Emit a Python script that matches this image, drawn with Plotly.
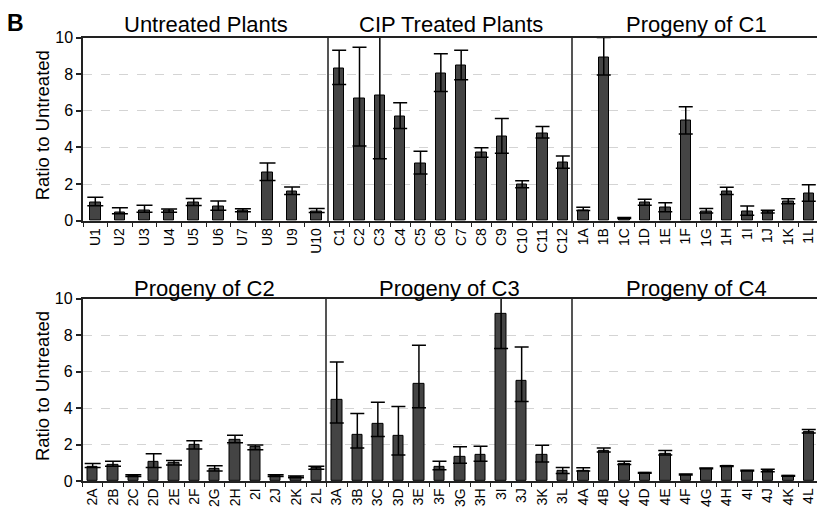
import plotly.graph_objects as go

W, H = 817, 519

# ---------------- data ----------------
u_cats = ["U1", "U2", "U3", "U4", "U5", "U6", "U7", "U8", "U9", "U10"]
u_vals = [0.99, 0.43, 0.56, 0.56, 0.99, 0.80, 0.56, 2.64, 1.60, 0.53]
u_up = [0.30, 0.28, 0.29, 0.08, 0.23, 0.28, 0.10, 0.51, 0.25, 0.14]
u_low = [0.17, 0.05, 0.09, 0.09, 0.16, 0.22, 0.06, 0.44, 0.17, 0.08]

c_cats = ["C1", "C2", "C3", "C4", "C5", "C6", "C7", "C8", "C9", "C10", "C11", "C12"]
c_vals = [8.31, 6.65, 6.83, 5.70, 3.15, 8.05, 8.45, 3.71, 4.58, 1.97, 4.79, 3.20]
c_up = [1.00, 2.82, 3.50, 0.74, 0.65, 1.07, 0.86, 0.27, 1.00, 0.21, 0.35, 0.34]
c_low = [0.88, 2.57, 3.45, 0.66, 0.60, 0.99, 0.76, 0.24, 0.90, 0.17, 0.27, 0.33]

p1_cats = ["1A", "1B", "1C", "1D", "1E", "1F", "1G", "1H", "1I", "1J", "1K", "1L"]
p1_vals = [0.58, 8.89, 0.14, 0.99, 0.70, 5.46, 0.49, 1.62, 0.53, 0.49, 1.06, 1.50]
p1_up = [0.16, 1.11, 0.04, 0.19, 0.28, 0.76, 0.18, 0.21, 0.28, 0.09, 0.14, 0.47]
p1_low = [0.02, 0.93, 0.02, 0.14, 0.21, 0.72, 0.07, 0.18, 0.23, 0.06, 0.13, 0.44]

p2_cats = ["2A", "2B", "2C", "2D", "2E", "2F", "2G", "2H", "2I", "2J", "2K", "2L"]
p2_vals = [0.80, 0.88, 0.27, 1.06, 0.97, 1.96, 0.65, 2.28, 1.86, 0.28, 0.21, 0.71]
p2_up = [0.16, 0.20, 0.07, 0.43, 0.16, 0.25, 0.18, 0.23, 0.12, 0.06, 0.07, 0.10]
p2_low = [0.06, 0.07, 0.03, 0.32, 0.09, 0.21, 0.10, 0.18, 0.14, 0.03, 0.03, 0.06]

p3_cats = ["3A", "3B", "3C", "3D", "3E", "3F", "3G", "3H", "3I", "3J", "3K", "3L"]
p3_vals = [4.46, 2.55, 3.13, 2.46, 5.31, 0.78, 1.31, 1.42, 9.19, 5.49, 1.42, 0.53]
p3_up = [2.07, 1.15, 1.19, 1.63, 2.14, 0.30, 0.57, 0.49, 3.00, 1.87, 0.54, 0.21]
p3_low = [1.27, 0.74, 0.69, 1.03, 1.29, 0.16, 0.34, 0.34, 1.92, 1.12, 0.38, 0.12]

p4_cats = ["4A", "4B", "4C", "4D", "4E", "4F", "4G", "4H", "4I", "4J", "4K", "4L"]
p4_vals = [0.57, 1.65, 0.96, 0.44, 1.49, 0.35, 0.69, 0.81, 0.57, 0.55, 0.28, 2.69]
p4_up = [0.16, 0.16, 0.12, 0.02, 0.19, 0.04, 0.02, 0.02, 0.02, 0.10, 0.02, 0.14]
p4_low = [0.02, 0.06, 0.06, 0.02, 0.06, 0.02, 0.02, 0.02, 0.02, 0.04, 0.02, 0.05]

panel_titles = ["Untreated Plants", "CIP Treated Plants", "Progeny of C1",
                "Progeny of C2", "Progeny of C3", "Progeny of C4"]
y_title = "Ratio to Untreated"
y_ticks = [0, 2, 4, 6, 8, 10]

# ---------------- layout geometry (pixels) ----------------
FONT = "Liberation Sans, Arial, sans-serif"
BAR_FILL = "#444444"


def px_x(p):
    return p / W


def px_y(p):
    return 1 - p / H


rows = [
    dict(top=30.5, bottom=220, xs=[(83, 329), (329, 573), (573, 817)], title_y=17),
    dict(top=300.7, bottom=489, xs=[(82.5, 326.5), (326.5, 573), (573, 817)], title_y=290),
]

panels = [
    (u_cats, u_vals, u_up, u_low),
    (c_cats, c_vals, c_up, c_low),
    (p1_cats, p1_vals, p1_up, p1_low),
    (p2_cats, p2_vals, p2_up, p2_low),
    (p3_cats, p3_vals, p3_up, p3_low),
    (p4_cats, p4_vals, p4_up, p4_low),
]

fig = go.Figure()
layout = dict(
    width=W, height=H,
    margin=dict(l=0, r=0, t=0, b=0),
    paper_bgcolor="white", plot_bgcolor="white",
    showlegend=False, bargap=0,
    font=dict(family=FONT, color="black"),
)
annotations = []

for i, (cats, vals, up, low) in enumerate(panels):
    r = i // 3
    c = i % 3
    row = rows[r]
    x0, x1 = row["xs"][c]
    n = len(cats)
    spacing = 20.5 if c == 2 else (x1 - x0) / n
    hi = -0.5 + (x1 - x0) / spacing
    idx = i + 1
    xname = "x" if idx == 1 else f"x{idx}"
    yname = "y" if idx == 1 else f"y{idx}"
    bar_w = 10.5 / spacing
    fig.add_trace(go.Bar(
        x=cats, y=vals, xaxis=xname, yaxis=yname, width=bar_w,
        marker=dict(color=BAR_FILL, line=dict(color="black", width=1)),
        error_y=dict(type="data", symmetric=False, array=up, arrayminus=low,
                     color="black", thickness=1.5, width=7 if c else 8),
    ))
    xkey = "xaxis" if idx == 1 else f"xaxis{idx}"
    ykey = "yaxis" if idx == 1 else f"yaxis{idx}"
    layout[xkey] = dict(
        domain=[px_x(x0), px_x(x1)], anchor=yname, type="category",
        range=[-0.5, hi], showline=True, linecolor="#222", linewidth=1.5,
        mirror=True, ticks="outside", tickson="boundaries", ticklen=4,
        tickcolor="#222", tickwidth=1, tickangle=-90,
        tickfont=dict(size=14, family=FONT, color="black"),
        showgrid=False, zeroline=False, fixedrange=True,
    )
    ydict = dict(
        domain=[px_y(row["bottom"]), px_y(row["top"])], anchor=xname,
        range=[0, 10], tickvals=y_ticks, showline=True,
        linecolor="#222" if c == 0 else "#555", linewidth=1.5,
        showgrid=True, gridcolor="#d4d4d4", griddash="dash", gridwidth=1,
        zeroline=False, fixedrange=True,
    )
    if c == 0:
        ydict.update(ticks="outside", ticklen=5, tickcolor="#222", tickwidth=1.5,
                     tickfont=dict(size=16, family=FONT, color="black"),
                     showticklabels=True)
    else:
        ydict.update(ticks="", showticklabels=False)
    layout[ykey] = ydict

    annotations.append(dict(
        text=panel_titles[i], xref="paper", yref="paper",
        x=px_x((x0 + min(x1 + (0 if c < 2 else 2), 819)) / 2), y=px_y(row["title_y"]),
        xanchor="center", yanchor="middle", showarrow=False,
        font=dict(size=22, family=FONT, color="black"),
    ))

for r, row in enumerate(rows):
    annotations.append(dict(
        text=y_title, xref="paper", yref="paper",
        x=px_x(42), y=px_y((row["top"] + row["bottom"]) / 2 - 4),
        xanchor="center", yanchor="middle", textangle=-90, showarrow=False,
        font=dict(size=18.5, family=FONT, color="black"),
    ))

annotations.append(dict(
    text="<b>B</b>", xref="paper", yref="paper", x=px_x(16), y=px_y(15),
    xanchor="center", yanchor="middle", showarrow=False,
    font=dict(size=23, family=FONT, color="black"),
))

layout["annotations"] = annotations
fig.update_layout(**layout)
fig.write_html("out.html")
